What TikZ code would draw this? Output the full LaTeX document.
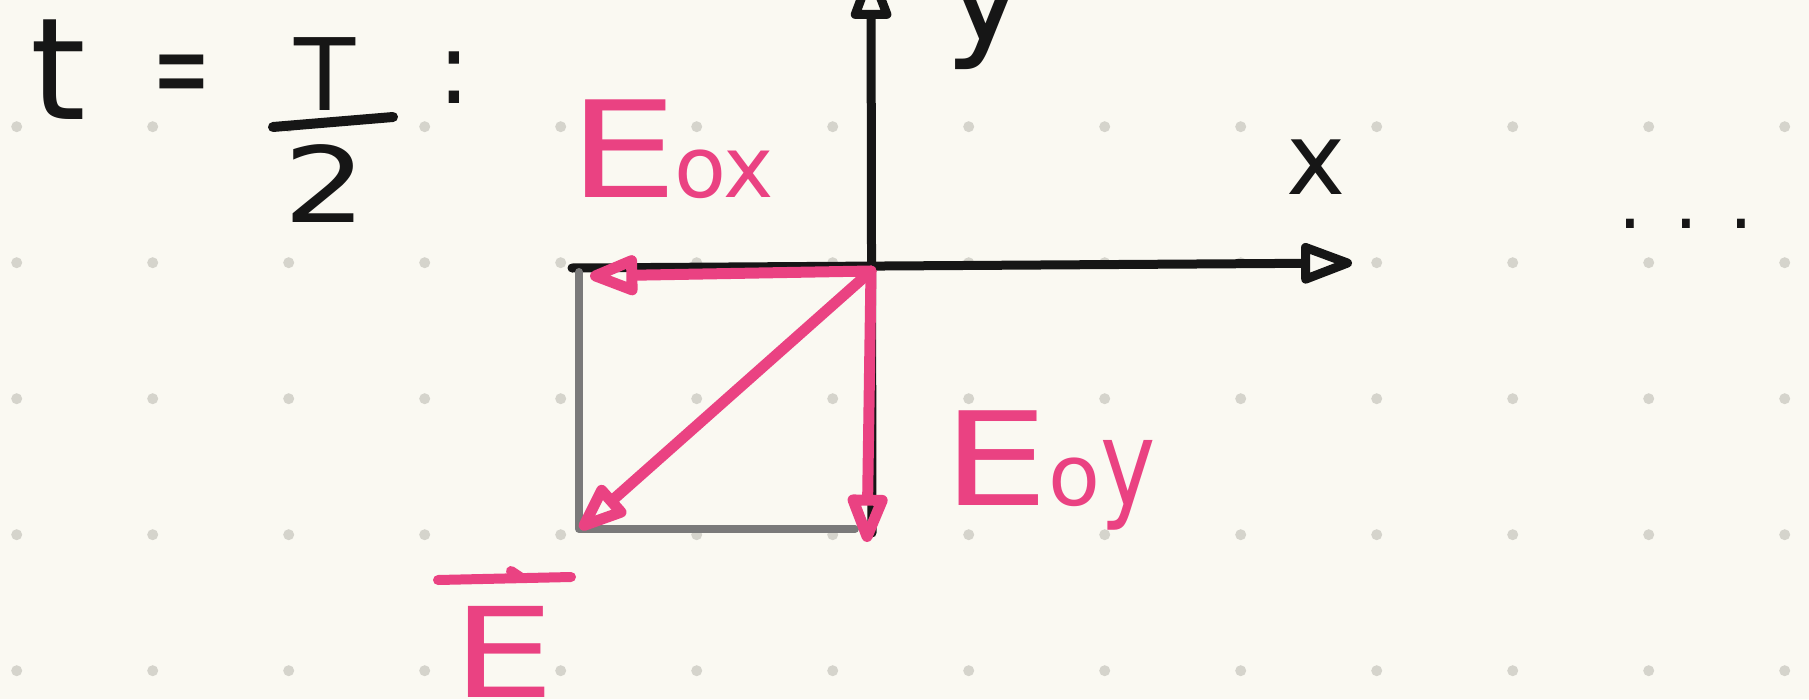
\documentclass[tikz,border=0pt]{standalone}
\usepackage{fontspec}
\setmainfont{DejaVu Sans}
\usetikzlibrary{arrows.meta}
\definecolor{bg}{RGB}{250,249,242}
\definecolor{griddot}{RGB}{213,212,204}
\definecolor{ink}{RGB}{22,22,22}
\definecolor{pinkink}{RGB}{234,66,130}
\definecolor{grayink}{RGB}{122,122,122}
\begin{document}
\begin{tikzpicture}[x=1pt,y=-1pt,
  axisline/.style={ink, line width=9pt, line cap=round, line join=round, -{Triangle[open,length=60pt,width=42pt,round]}},
  vecline/.style={pinkink, line width=11pt, line cap=round, line join=round, -{Triangle[open,length=58pt,width=42pt,round]}},
  guide/.style={grayink, line width=8pt, line cap=round, line join=round},
  stroke/.style={line width=10pt, line cap=round, line join=round},
  txt/.style={inner sep=0pt, outer sep=0pt},
  mid/.style={font=\fontsize{100}{100}\selectfont}]
\fill[bg] (0,0) rectangle (1809,699);
\useasboundingbox (0,0) rectangle (1809,699);
\foreach \i in {0,...,13}{\foreach \j in {0,...,4}{\fill[griddot] (16.7+136*\i,126.7+136*\j) circle (5.5pt);}}
% coordinates
\coordinate (O) at (871,271);
\coordinate (xstart) at (572,268);
\coordinate (xend) at (1352,263);
\coordinate (ybot) at (872,533);
\coordinate (ytop) at (871,-32);
\coordinate (Ex) at (590,276);
\coordinate (Ey) at (867,542);
\coordinate (Ed) at (580,529);
\coordinate (rTL) at (579,272);
\coordinate (rBL) at (579,529);
\coordinate (rBR) at (855,529);
% axes
\draw[axisline] (xstart) -- (xend);
\draw[axisline] (ybot) -- (ytop);
% guide rectangle
\draw[guide] (rTL) -- (rBL) -- (rBR);
% vectors
\draw[vecline] (O) -- (Ex);
\draw[vecline] (O) -- (Ey);
\draw[vecline] (O) -- (Ed);
% labels
\node[txt, ink, font=\fontsize{142}{142}\selectfont, anchor=base west] (t) at (30,119) {t};
\node[txt, ink, font=\fontsize{100}{100}\selectfont, anchor=base] (eq) at (182,109) {\scalebox{0.7}[1.2]{=}};
\node[txt, ink, mid, anchor=base] (T) at (325,110) {T};
\coordinate (barL) at (273,127);
\coordinate (barR) at (393,117);
\draw[ink, stroke] (barL) -- (barR);
\node[txt, ink, font=\fontsize{105}{105}\selectfont, anchor=base] (two) at (325,222) {\scalebox{1.25}[1]{2}};
\node[txt, ink, mid, anchor=base] (colon) at (454,103) {:};
\node[txt, ink, mid, anchor=base] (xlab) at (1316,194) {x};
\node[txt, ink, font=\fontsize{140}{140}\selectfont, anchor=base] (ylab) at (986,40) {y};
\node[txt, ink, font=\fontsize{75}{75}\selectfont, anchor=base] (dots) at (1686,228) {.\hspace{32pt}.\hspace{32pt}.};
\node[txt, pinkink, anchor=base west] (Eox) at (568,197) {\fontsize{134}{134}\selectfont\scalebox{1.3}[1]{E}\hspace{-4pt}\fontsize{85}{85}\selectfont ox};
\node[txt, pinkink, anchor=base west] (Eoy) at (942,505) {\fontsize{130}{130}\selectfont\scalebox{1.3}[1]{E}\fontsize{85}{85}\selectfont o\scalebox{1.1}[1.4]{y}};
\node[txt, pinkink, font=\fontsize{125}{125}\selectfont, anchor=base west] (Evec) at (452,697) {\scalebox{1.3}[1]{E}};
\coordinate (vbarL) at (438,580);
\coordinate (vbarR) at (571,577);
\coordinate (vtickA) at (511,571);
\coordinate (vtickB) at (520,577);
\draw[pinkink, stroke] (vbarL) -- (vbarR);
\draw[pinkink, stroke] (vtickA) -- (vtickB);
\end{tikzpicture}
\end{document}
